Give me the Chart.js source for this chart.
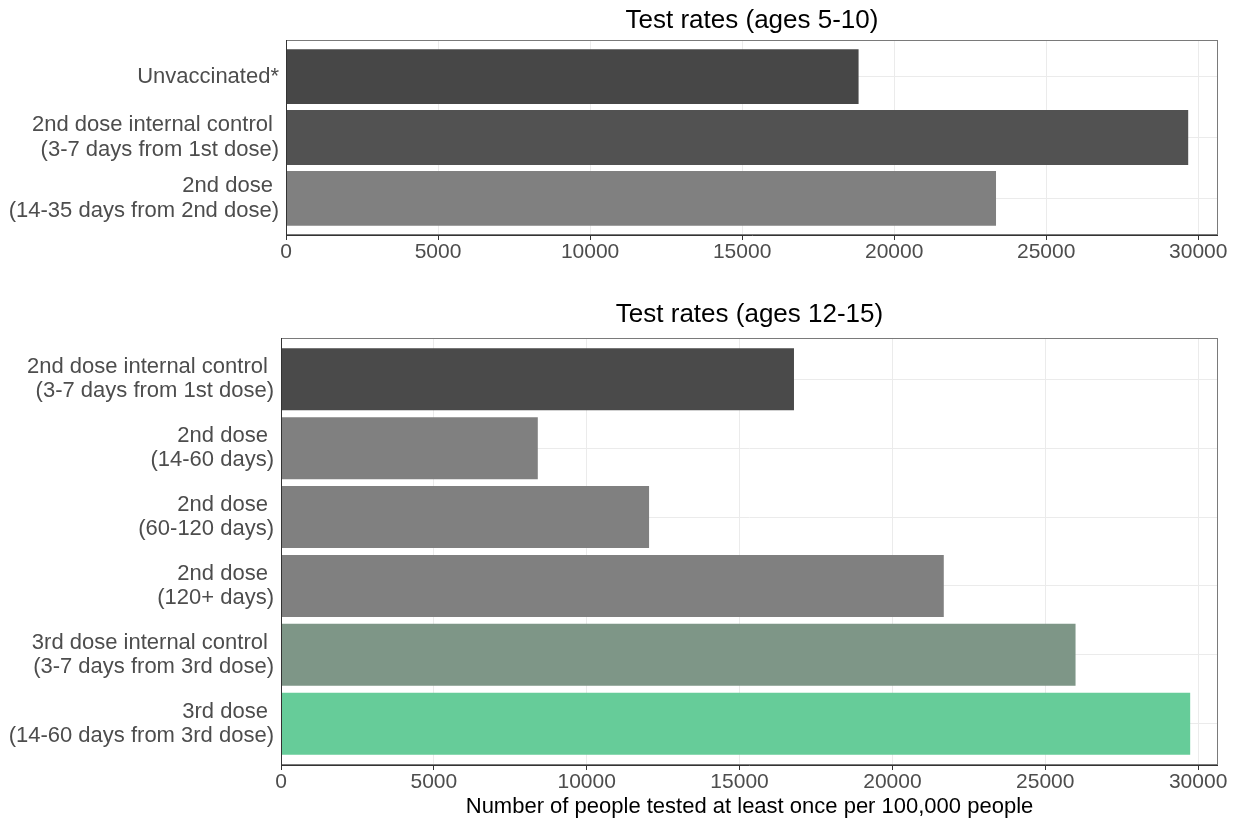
<!DOCTYPE html>
<html><head><meta charset="utf-8">
<script src="https://cdn.jsdelivr.net/npm/chart.js@4/dist/chart.umd.min.js"></script>
<style>
html,body{margin:0;padding:0;background:#fff;}
#wrap{position:relative;width:1238px;height:828px;}
canvas{position:absolute;left:0;}
</style></head>
<body><div id="wrap"><canvas id="c1" width="1238" height="270" style="top:0"></canvas><canvas id="c2" width="1238" height="558" style="top:270px"></canvas></div>
<script>
const topTitle = "Test rates (ages 5-10)";
const topCategories = [["Unvaccinated*"], ["2nd dose internal control ", "(3-7 days from 1st dose)"], ["2nd dose ", "(14-35 days from 2nd dose)"]];
const topValues = [18830, 29670, 23350];
const topColors = ["#474747", "#525252", "#808080"];

const bottomTitle = "Test rates (ages 12-15)";
const bottomCategories = [["2nd dose internal control ", "(3-7 days from 1st dose)"], ["2nd dose ", "(14-60 days)"], ["2nd dose ", "(60-120 days)"], ["2nd dose ", "(120+ days)"], ["3rd dose internal control ", "(3-7 days from 3rd dose)"], ["3rd dose ", "(14-60 days from 3rd dose)"]];
const bottomValues = [16780, 8400, 12040, 21680, 25990, 29740];
const bottomColors = ["#4a4a4a", "#808080", "#808080", "#808080", "#7e9687", "#66cc99"];

const xTicks = [0, 5000, 10000, 15000, 20000, 25000, 30000];
const xMax = 30650;
const xTitle = "Number of people tested at least once per 100,000 people";

const FONT = "'Liberation Sans', Arial, sans-serif";

const framePlugin = {
  id: 'frame',
  afterDraw(chart, args, opts) {
    const {ctx, chartArea: a} = chart;
    ctx.save();
    ctx.strokeStyle = '#7a7a7a';
    ctx.lineWidth = 1;
    ctx.strokeRect(a.left + 0.5, a.top + 0.5, a.right - a.left - 1, a.bottom - a.top - 1);
    ctx.strokeStyle = '#333333';
    ctx.beginPath();
    ctx.moveTo(a.left + 0.5, a.top);
    ctx.lineTo(a.left + 0.5, a.bottom + 0.5);
    ctx.lineTo(a.right, a.bottom + 0.5);
    ctx.stroke();
    ctx.fillStyle = '#000';
    ctx.font = "26px " + FONT;
    ctx.textAlign = 'center';
    ctx.textBaseline = 'alphabetic';
    ctx.fillText(opts.text, (a.left + a.right) / 2, a.top - opts.gap);
    ctx.restore();
  }
};

function makeChart(id, cats, vals, colors, title, yWidth, xHeight, padTop, showXTitle, gap) {
  const n = cats.length;
  return new Chart(document.getElementById(id), {
    type: 'bar',
    data: {
      datasets: [{
        data: vals.map((v, i) => ({x: v, y: i})),
        backgroundColor: colors,
        borderWidth: 0,
        categoryPercentage: 1,
        barPercentage: 0.9
      }]
    },
    options: {
      indexAxis: 'y',
      responsive: false,
      animation: false,
      devicePixelRatio: 1,
      layout: {padding: {top: padTop, right: 20, left: 0, bottom: 0}},
      plugins: {legend: {display: false}, tooltip: {enabled: false}, title: {display: false},
        frame: {text: title, gap: gap}},
      scales: {
        x: {
          type: 'linear', min: 0, max: xMax, offset: false,
          afterBuildTicks: (s) => { s.ticks = xTicks.map(v => ({value: v})); },
          afterFit: (s) => { s.height = xHeight; },
          grid: {color: '#ebebeb', lineWidth: 1, drawTicks: true, tickLength: 5, tickColor: '#333333', offset: false},
          border: {display: false},
          ticks: {color: '#4d4d4d', font: {family: FONT, size: 21}, padding: 0, maxRotation: 0,
            callback: (v) => String(v)},
          title: {display: showXTitle, text: xTitle, color: '#000', font: {family: FONT, size: 22},
            padding: {top: 0, bottom: 8}}
        },
        y: {
          type: 'linear', min: -0.6, max: n - 0.4, reverse: true, offset: false,
          afterBuildTicks: (s) => { s.ticks = cats.map((_, i) => ({value: i})); },
          afterFit: (s) => { s.width = yWidth; },
          grid: {color: '#ebebeb', lineWidth: 1, drawTicks: false, offset: false},
          border: {display: false},
          ticks: {color: '#4d4d4d', font: {family: FONT, size: 22, lineHeight: 1.1}, padding: 7,
            autoSkip: false,
            callback: (v) => cats[Math.round(v)]}
        }
      }
    },
    plugins: [framePlugin]
  });
}

makeChart('c1', topCategories, topValues, topColors, topTitle, 286, 35, 40, false, 12);
makeChart('c2', bottomCategories, bottomValues, bottomColors, bottomTitle, 281, 63, 68, true, 16);
</script></body></html>
